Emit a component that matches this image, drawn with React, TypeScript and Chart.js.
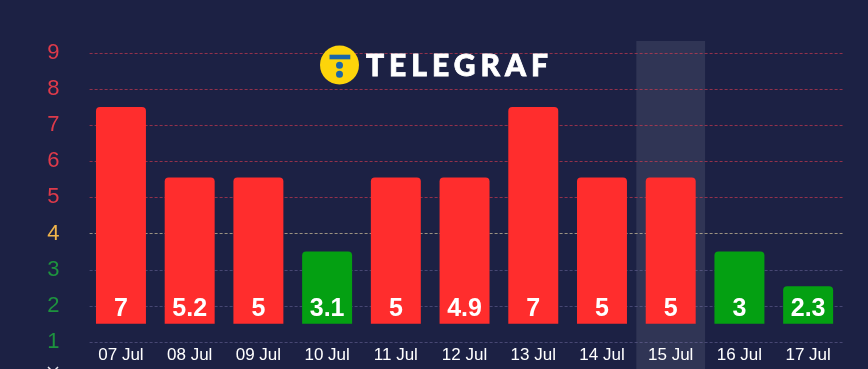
import React, { useEffect, useRef } from "react";
import { Chart, registerables } from "chart.js";

Chart.register(...registerables);

const categories = ["07 Jul", "08 Jul", "09 Jul", "10 Jul", "11 Jul", "12 Jul", "13 Jul", "14 Jul", "15 Jul", "16 Jul", "17 Jul"];
const valueLabels = ["7", "5.2", "5", "3.1", "5", "4.9", "7", "5", "5", "3", "2.3"];
const barBase = 1.5;
const barTops = [7.5, 5.55, 5.55, 3.5, 5.55, 5.55, 7.5, 5.55, 5.55, 3.5, 2.54];
const barColors = ["#ff2d2d", "#ff2d2d", "#ff2d2d", "#04a012", "#ff2d2d", "#ff2d2d", "#ff2d2d", "#ff2d2d", "#ff2d2d", "#04a012", "#04a012"];
const highlightedIndex = 8;
const BG = "#1c2144";

function tickColor(v: number) {
  if (v >= 5) return "#de3a4a";
  if (v === 4) return "#f0b44a";
  return "#1d933e";
}
function gridColor(v: number) {
  if (v >= 5) return "rgba(226,60,80,0.6)";
  if (v === 4) return "rgba(240,220,170,0.6)";
  return "rgba(130,125,180,0.42)";
}

const decor = {
  id: "decor",
  beforeDatasetsDraw(chart: any) {
    const { ctx, chartArea, scales } = chart;
    const { x, y } = scales;
    const step = x.getPixelForValue(1) - x.getPixelForValue(0);
    const cx = x.getPixelForValue(highlightedIndex);
    ctx.save();
    ctx.fillStyle = "rgba(255,255,255,0.09)";
    ctx.fillRect(cx - step / 2, y.getPixelForValue(9.33), step, chart.height);
    ctx.lineWidth = 1;
    ctx.setLineDash([3, 2]);
    for (let v = 1; v <= 9; v++) {
      const py = Math.round(y.getPixelForValue(v)) + 0.5;
      ctx.strokeStyle = gridColor(v);
      ctx.beginPath();
      ctx.moveTo(chartArea.left + 3, py);
      ctx.lineTo(chartArea.right, py);
      ctx.stroke();
    }
    ctx.restore();
  },
  afterDatasetsDraw(chart: any) {
    const { ctx, scales } = chart;
    const { x, y } = scales;
    ctx.save();
    ctx.fillStyle = "#ffffff";
    ctx.font = "bold 25px 'Liberation Sans', Arial, sans-serif";
    ctx.textAlign = "center";
    ctx.textBaseline = "middle";
    valueLabels.forEach((t, i) => ctx.fillText(t, x.getPixelForValue(i), y.getPixelForValue(barBase) - 15));
    // logo
    ctx.fillStyle = "#fdd40a";
    ctx.beginPath();
    ctx.arc(339.5, 65, 19.5, 0, Math.PI * 2);
    ctx.fill();
    ctx.fillStyle = "#1b66a8";
    ctx.fillRect(329.5, 54.7, 20.8, 4.6);
    ctx.beginPath();
    ctx.arc(339.5, 65.3, 3.5, 0, Math.PI * 2);
    ctx.arc(339.5, 74.3, 3.5, 0, Math.PI * 2);
    ctx.fill();
    ctx.fillStyle = "#ffffff";
    ctx.strokeStyle = "#ffffff";
    ctx.lineWidth = 0.8;
    ctx.font = "900 30px Lato, 'Liberation Sans', sans-serif";
    ctx.textAlign = "left";
    ctx.letterSpacing = "5px";
    ctx.fillText("TELEGRAF", 366, 66);
    ctx.strokeText("TELEGRAF", 366, 66);
    ctx.restore();
    // clipped mark under the y axis
    ctx.save();
    ctx.strokeStyle = "#e8e8f0";
    ctx.lineWidth = 1.5;
    ctx.beginPath();
    ctx.moveTo(48, 367);
    ctx.lineTo(51, 370);
    ctx.moveTo(58, 367);
    ctx.lineTo(55, 370);
    ctx.stroke();
    ctx.restore();
  },
};

export default function App() {
  const ref = useRef<HTMLCanvasElement>(null);
  useEffect(() => {
    document.body.style.margin = "0";
    document.body.style.background = BG;
    document.body.style.overflow = "hidden";
    const chart = new Chart(ref.current!, {
      type: "bar",
      data: {
        labels: categories,
        datasets: [{
          data: barTops.map((t) => [barBase, t]) as any,
          backgroundColor: barColors,
          borderRadius: { topLeft: 4, topRight: 4, bottomLeft: 0, bottomRight: 0 },
          borderSkipped: false,
          barPercentage: 0.727,
          categoryPercentage: 1,
        }],
      },
      options: {
        animation: false,
        responsive: false,
        layout: { autoPadding: false, padding: { left: 0, right: 25.5, top: 41, bottom: 0 } },
        plugins: { legend: { display: false }, tooltip: { enabled: false } },
        scales: {
          x: {
            grid: { display: false, drawTicks: false },
            border: { display: false },
            ticks: { color: "#ffffff", font: { size: 17, family: "'Liberation Sans', Arial, sans-serif" }, maxRotation: 0, autoSkip: false, padding: 3 },
          },
          y: {
            min: 1,
            max: 9.33,
            grid: { display: false, drawTicks: false },
            border: { display: false },
            afterFit(s: any) { s.width = 86.6; },
            ticks: {
              includeBounds: false,
              stepSize: 1,
              padding: 27,
              color: (c: any) => tickColor(c.tick.value),
              font: { size: 22, family: "'Liberation Sans', Arial, sans-serif" },
            },
          },
        },
      },
      plugins: [decor],
    } as any);
    return () => chart.destroy();
  }, []);
  return (
    <div style={{ width: 868, height: 369, overflow: "hidden" }}>
      <canvas ref={ref} width={868} height={382} style={{ display: "block", background: BG }} />
    </div>
  );
}
